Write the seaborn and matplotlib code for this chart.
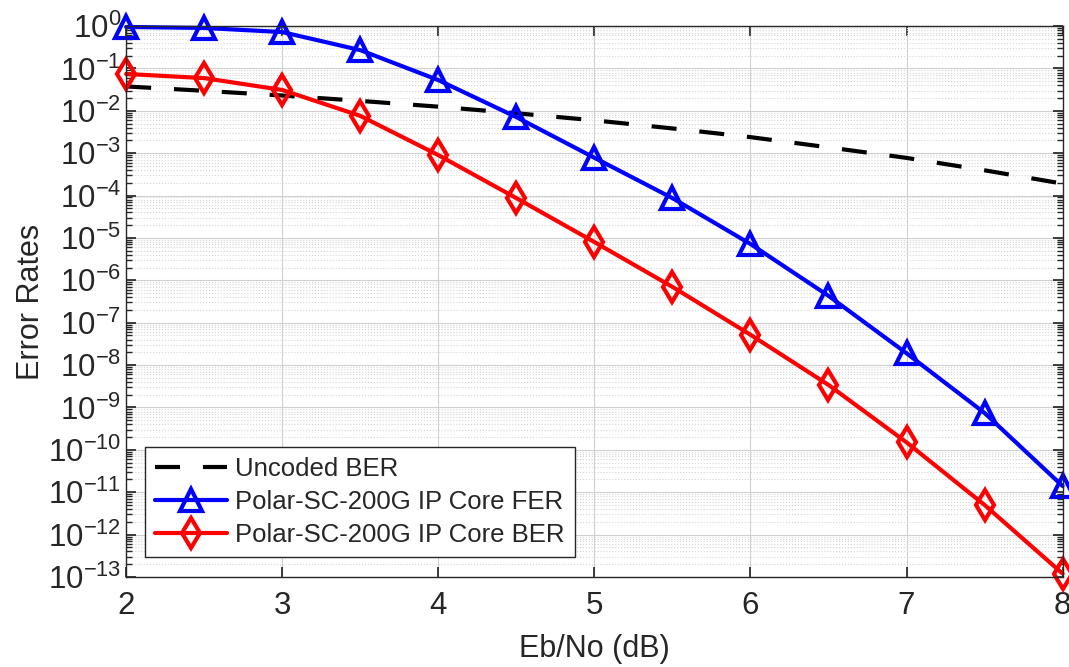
import numpy as np
import pandas as pd
import matplotlib
matplotlib.use('Agg')
import matplotlib.pyplot as plt
import matplotlib.ticker as mticker
import seaborn as sns

# Eb/No points (dB)
ebno = [2.0, 2.5, 3.0, 3.5, 4.0, 4.5, 5.0, 5.5, 6.0, 6.5, 7.0, 7.5, 8.0]

# values
uncoded_ber = [3.75e-2, 2.96e-2, 2.29e-2, 1.71e-2, 1.25e-2, 8.73e-3, 5.95e-3,
               3.83e-3, 2.39e-3, 1.37e-3, 7.73e-4, 3.94e-4, 1.91e-4]
polar_fer = [0.95, 0.9, 0.72, 0.27, 0.053, 7.1e-3, 7.8e-4,
             8.7e-5, 7.2e-6, 4.3e-7, 1.9e-8, 7.4e-10, 1.4e-11]
polar_ber = [0.074, 0.059, 0.031, 7.6e-3, 9.0e-4, 8.7e-5, 8.0e-6,
             7.0e-7, 5.2e-8, 3.4e-9, 1.5e-10, 5.0e-12, 1.2e-13]

labels = ['Uncoded BER', 'Polar-SC-200G IP Core FER', 'Polar-SC-200G IP Core BER']

sns.set_theme(style='ticks')
plt.rcParams['font.family'] = ['Liberation Sans', 'DejaVu Sans']
plt.rcParams['mathtext.fontset'] = 'custom'
plt.rcParams['mathtext.rm'] = 'Liberation Sans'
plt.rcParams['mathtext.it'] = 'Liberation Sans:italic'
plt.rcParams['mathtext.bf'] = 'Liberation Sans:bold'

df = pd.DataFrame({'ebno': ebno, 'unc': uncoded_ber, 'fer': polar_fer, 'ber': polar_ber})

fig = plt.figure(figsize=(10.69, 6.67), dpi=100)
ax = fig.add_axes([0.118, 0.135, 0.876, 0.826])

sns.lineplot(data=df, x='ebno', y='unc', ax=ax, color='black', linestyle=(0, (6, 5.5)),
             linewidth=3, label=labels[0], clip_on=False)
sns.lineplot(data=df, x='ebno', y='fer', ax=ax, color='#0000ff', linewidth=3,
             marker='^', markersize=16, markerfacecolor='none', markeredgecolor='#0000ff',
             markeredgewidth=3, label=labels[1], clip_on=False)
sns.lineplot(data=df, x='ebno', y='ber', ax=ax, color='#ff0000', linewidth=3,
             marker='d', markersize=15, markerfacecolor='none', markeredgecolor='#ff0000',
             markeredgewidth=3, label=labels[2], clip_on=False)

ax.set_yscale('log')
ax.set_xlim(2, 8)
ax.set_ylim(1e-13, 1e0)
ax.set_xticks([2, 3, 4, 5, 6, 7, 8])
ax.yaxis.set_major_locator(mticker.LogLocator(base=10, numticks=20))
ax.yaxis.set_minor_locator(mticker.LogLocator(base=10, subs=np.arange(2, 10), numticks=200))
ax.yaxis.set_minor_formatter(mticker.NullFormatter())

ax.grid(True, which='major', color='#d0d0d0', linewidth=0.8)
ax.grid(True, which='minor', axis='y', color='#d5d5d5', linestyle=':', linewidth=0.8)

for s in ax.spines.values():
    s.set_visible(True)
    s.set_color('#262626')
    s.set_linewidth(1.0)
ax.tick_params(which='both', direction='in', top=True, right=True, colors='#262626',
               labelsize=22.5, labelcolor='#262626')
ax.tick_params(which='major', length=7)
ax.tick_params(which='minor', length=4)
ax.tick_params(axis='x', pad=10)

ax.set_xlabel('Eb/No (dB)', fontsize=22, color='#262626')
ax.set_ylabel('Error Rates', fontsize=22, color='#262626')
ax.xaxis.set_label_coords(0.5, -0.103)
ax.yaxis.set_label_coords(-0.102, 0.5)
ax.yaxis.label.set_va('center')

leg = ax.legend(loc='lower left', bbox_to_anchor=(0.02, 0.036), fontsize=18.5,
                frameon=True, fancybox=False, framealpha=1, edgecolor='#262626',
                handlelength=2.8, borderpad=0.4, labelspacing=0.35, handletextpad=0.3,
                borderaxespad=0)
leg.get_frame().set_linewidth(1.0)

fig.savefig('out.png', dpi=100)
plt.close(fig)
